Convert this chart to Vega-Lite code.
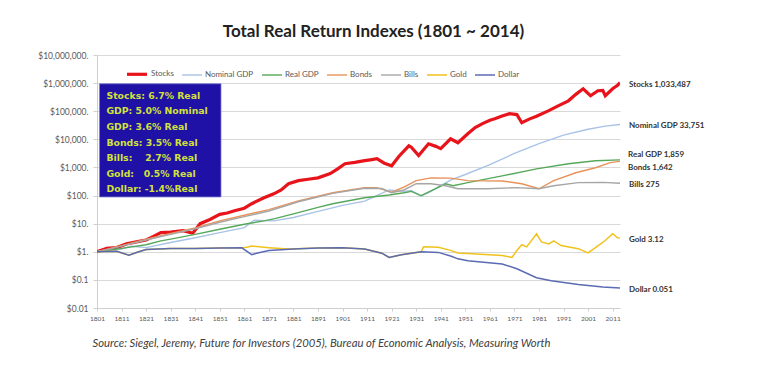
{
  "$schema": "https://vega.github.io/schema/vega-lite/v6.json",
  "width": 523,
  "height": 253,
  "autosize": {"type": "none"},
  "padding": {"left": 97, "top": 55, "right": 145, "bottom": 57},
  "background": "white",
  "config": {"font": "Lato", "view": {"stroke": null}, "axis": {"labelOverlap": false}},
  "title": {"text": "Total Real Return Indexes (1801 ~ 2014)", "fontSize": 17, "fontWeight": "bold", "color": "#222222", "font": "Lato", "dx": 15, "offset": 10},
  "encoding": {
    "x": {"field": "year", "type": "quantitative",
      "scale": {"domain": [1801, 2014], "nice": false, "zero": false},
      "axis": {"values": [1801,1811,1821,1831,1841,1851,1861,1871,1881,1891,1901,1911,1921,1931,1941,1951,1961,1971,1981,1991,2001,2011],
        "format": "d", "grid": false, "labelFontSize": 6.5, "labelColor": "#595959", "domainColor": "#cfcfcf", "tickColor": "#cfcfcf", "tickSize": 3, "labelPadding": 4,
        "labelOverlap": false, "labelBound": false, "labelFlush": false,
        "title": "Source: Siegel, Jeremy, Future for Investors (2005), Bureau of Economic Analysis, Measuring Worth",
        "titleFontStyle": "italic", "titleFontWeight": "normal", "titleFontSize": 11.3, "titleColor": "#404040",
        "titleAnchor": "start", "titleAlign": "left", "titleX": -5, "titleY": 38, "titleBaseline": "alphabetic"}},
    "y": {"field": "value", "type": "quantitative",
      "scale": {"type": "log", "domain": [0.01, 10000000], "nice": false},
      "axis": {"values": [0.01, 0.1, 1, 10, 100, 1000, 10000, 100000, 1000000, 10000000],
        "labelExpr": "datum.value >= 1 ? '$' + format(datum.value, ',') + '.' : '$' + format(datum.value, '')",
        "title": null, "grid": true, "gridColor": "#d9d9d9", "domainColor": "#cfcfcf", "tickColor": "#cfcfcf", "tickSize": 4,
        "labelFontSize": 8.5, "labelColor": "#595959", "labelPadding": 5, "labelOverlap": false}}
  },
  "data": {"name": "series"},
  "layer": [
    {
      "mark": {"type": "line", "clip": true},
      "encoding": {
        "color": {"field": "series", "type": "nominal",
          "scale": {"domain": ["Stocks", "Nominal GDP", "Real GDP", "Bonds", "Bills", "Gold", "Dollar"],
            "range": ["#e8141b", "#a9c3e6", "#55a85a", "#e8925a", "#a6a6a6", "#f0c21c", "#5b6bb3"]},
          "legend": {"title": null, "orient": "none", "legendX": 28, "legendY": 7, "direction": "horizontal", "symbolType": "stroke", "symbolSize": 400, "labelFontSize": 8, "labelColor": "#595959", "columnPadding": 5, "labelOffset": 2}},
        "strokeWidth": {"field": "series", "type": "nominal",
          "scale": {"type": "ordinal", "domain": ["Stocks", "Nominal GDP", "Real GDP", "Bonds", "Bills", "Gold", "Dollar"], "range": [3.2, 1.4, 1.4, 1.4, 1.4, 1.5, 1.5]},
          "legend": {"title": null, "orient": "none", "legendX": 28, "legendY": 7, "direction": "horizontal", "symbolType": "stroke", "symbolSize": 400, "labelFontSize": 8, "labelColor": "#595959", "columnPadding": 5, "labelOffset": 2}}
      }
    },
    {
      "transform": [{"filter": "datum.year == 2014 && datum.series == 'Stocks'"}],
      "mark": {"type": "rect", "fill": "#1f10a6", "stroke": "#7f7fd0", "strokeWidth": 0.8},
      "encoding": {
        "x": {"datum": 1802},
        "x2": {"datum": 1851.5},
        "y": {"datum": 950000},
        "y2": {"datum": 89}
      }
    },
    {
      "transform": [{"filter": "datum.year == 2014 && datum.series == 'Stocks'"}],
      "mark": {"type": "text", "align": "left", "baseline": "top", "dx": 7, "dy": 8, "font": "DejaVu Sans", "fontSize": 9.3, "fontWeight": "bold", "color": "#d2e23a", "lineHeight": 15.6,
        "text": ["Stocks: 6.7% Real", "GDP: 5.0% Nominal", "GDP: 3.6% Real", "Bonds: 3.5% Real", "Bills:\u00a0\u00a0\u00a0 2.7% Real", "Gold:\u00a0\u00a0 0.5% Real", "Dollar: -1.4%Real"]},
      "encoding": {
        "x": {"datum": 1802},
        "y": {"datum": 950000}
      }
    },
    {
      "transform": [{"filter": "datum.year == 2014 && datum.series != 'Real GDP' && datum.series != 'Bonds'"}, {"calculate": "datum.series + ' ' + format(datum.value, ',')", "as": "label"}],
      "mark": {"type": "text", "align": "left", "baseline": "middle", "dx": 9, "dy": 2, "fontSize": 8, "fontWeight": "bold", "color": "#333333", "clip": false},
      "encoding": {"text": {"field": "label"}}
    },
    {
      "transform": [{"filter": "datum.year == 2014 && datum.series == 'Real GDP'"}, {"calculate": "datum.series + ' ' + format(datum.value, ',')", "as": "label"}],
      "mark": {"type": "text", "align": "left", "baseline": "middle", "dx": 8, "dy": -5, "fontSize": 8, "fontWeight": "bold", "color": "#333333", "clip": false},
      "encoding": {"text": {"field": "label"}}
    },
    {
      "transform": [{"filter": "datum.year == 2014 && datum.series == 'Bonds'"}, {"calculate": "datum.series + ' ' + format(datum.value, ',')", "as": "label"}],
      "mark": {"type": "text", "align": "left", "baseline": "middle", "dx": 8, "dy": 7, "fontSize": 8, "fontWeight": "bold", "color": "#333333", "clip": false},
      "encoding": {"text": {"field": "label"}}
    }
  ],
  "datasets": {
    "series": [
      {"series": "Stocks", "year": 1801, "value": 1},
      {"series": "Stocks", "year": 1805, "value": 1.32},
      {"series": "Stocks", "year": 1809, "value": 1.41},
      {"series": "Stocks", "year": 1813, "value": 1.91},
      {"series": "Stocks", "year": 1817, "value": 2.24},
      {"series": "Stocks", "year": 1821, "value": 2.63},
      {"series": "Stocks", "year": 1824, "value": 3.55},
      {"series": "Stocks", "year": 1827, "value": 4.79},
      {"series": "Stocks", "year": 1831, "value": 5.01},
      {"series": "Stocks", "year": 1836, "value": 5.62},
      {"series": "Stocks", "year": 1840, "value": 4.57},
      {"series": "Stocks", "year": 1843, "value": 10},
      {"series": "Stocks", "year": 1847, "value": 14.1},
      {"series": "Stocks", "year": 1851, "value": 21.4},
      {"series": "Stocks", "year": 1854, "value": 24},
      {"series": "Stocks", "year": 1857, "value": 28.8},
      {"series": "Stocks", "year": 1861, "value": 35.5},
      {"series": "Stocks", "year": 1864, "value": 51.3},
      {"series": "Stocks", "year": 1869, "value": 83.2},
      {"series": "Stocks", "year": 1873, "value": 115},
      {"series": "Stocks", "year": 1876, "value": 158},
      {"series": "Stocks", "year": 1879, "value": 263},
      {"series": "Stocks", "year": 1883, "value": 339},
      {"series": "Stocks", "year": 1887, "value": 380},
      {"series": "Stocks", "year": 1891, "value": 427},
      {"series": "Stocks", "year": 1896, "value": 603},
      {"series": "Stocks", "year": 1899, "value": 891},
      {"series": "Stocks", "year": 1902, "value": 1349},
      {"series": "Stocks", "year": 1906, "value": 1514},
      {"series": "Stocks", "year": 1910, "value": 1738},
      {"series": "Stocks", "year": 1913, "value": 1905},
      {"series": "Stocks", "year": 1915, "value": 2042},
      {"series": "Stocks", "year": 1918, "value": 1413},
      {"series": "Stocks", "year": 1921, "value": 1148},
      {"series": "Stocks", "year": 1924, "value": 2512},
      {"series": "Stocks", "year": 1928, "value": 5888},
      {"series": "Stocks", "year": 1929, "value": 5248},
      {"series": "Stocks", "year": 1932, "value": 2630},
      {"series": "Stocks", "year": 1936, "value": 6918},
      {"series": "Stocks", "year": 1939, "value": 5623},
      {"series": "Stocks", "year": 1941, "value": 4677},
      {"series": "Stocks", "year": 1945, "value": 10471},
      {"series": "Stocks", "year": 1948, "value": 7586},
      {"series": "Stocks", "year": 1952, "value": 15849},
      {"series": "Stocks", "year": 1955, "value": 26303},
      {"series": "Stocks", "year": 1958, "value": 36308},
      {"series": "Stocks", "year": 1961, "value": 47863},
      {"series": "Stocks", "year": 1963, "value": 53703},
      {"series": "Stocks", "year": 1966, "value": 67608},
      {"series": "Stocks", "year": 1969, "value": 81283},
      {"series": "Stocks", "year": 1972, "value": 75858},
      {"series": "Stocks", "year": 1974, "value": 38905},
      {"series": "Stocks", "year": 1977, "value": 52481},
      {"series": "Stocks", "year": 1980, "value": 66069},
      {"series": "Stocks", "year": 1985, "value": 104713},
      {"series": "Stocks", "year": 1989, "value": 158489},
      {"series": "Stocks", "year": 1993, "value": 234423},
      {"series": "Stocks", "year": 1996, "value": 398107},
      {"series": "Stocks", "year": 1999, "value": 630957},
      {"series": "Stocks", "year": 2002, "value": 354813},
      {"series": "Stocks", "year": 2005, "value": 537032},
      {"series": "Stocks", "year": 2007, "value": 549541},
      {"series": "Stocks", "year": 2008, "value": 354813},
      {"series": "Stocks", "year": 2011, "value": 630957},
      {"series": "Stocks", "year": 2013, "value": 831764},
      {"series": "Stocks", "year": 2014, "value": 1033487},

      {"series": "Nominal GDP", "year": 1801, "value": 1},
      {"series": "Nominal GDP", "year": 1811, "value": 1.26},
      {"series": "Nominal GDP", "year": 1815, "value": 1.58},
      {"series": "Nominal GDP", "year": 1821, "value": 1.41},
      {"series": "Nominal GDP", "year": 1831, "value": 2.14},
      {"series": "Nominal GDP", "year": 1841, "value": 3.16},
      {"series": "Nominal GDP", "year": 1851, "value": 4.79},
      {"series": "Nominal GDP", "year": 1861, "value": 7.24},
      {"series": "Nominal GDP", "year": 1865, "value": 13.2},
      {"series": "Nominal GDP", "year": 1873, "value": 12.6},
      {"series": "Nominal GDP", "year": 1881, "value": 16.6},
      {"series": "Nominal GDP", "year": 1891, "value": 27.5},
      {"series": "Nominal GDP", "year": 1901, "value": 44.7},
      {"series": "Nominal GDP", "year": 1910, "value": 63.1},
      {"series": "Nominal GDP", "year": 1920, "value": 158},
      {"series": "Nominal GDP", "year": 1926, "value": 141},
      {"series": "Nominal GDP", "year": 1929, "value": 151},
      {"series": "Nominal GDP", "year": 1933, "value": 95.5},
      {"series": "Nominal GDP", "year": 1937, "value": 141},
      {"series": "Nominal GDP", "year": 1941, "value": 224},
      {"series": "Nominal GDP", "year": 1945, "value": 355},
      {"series": "Nominal GDP", "year": 1951, "value": 562},
      {"series": "Nominal GDP", "year": 1961, "value": 1259},
      {"series": "Nominal GDP", "year": 1971, "value": 3162},
      {"series": "Nominal GDP", "year": 1981, "value": 7079},
      {"series": "Nominal GDP", "year": 1991, "value": 14125},
      {"series": "Nominal GDP", "year": 2001, "value": 22909},
      {"series": "Nominal GDP", "year": 2008, "value": 29512},
      {"series": "Nominal GDP", "year": 2014, "value": 33751},

      {"series": "Real GDP", "year": 1801, "value": 1},
      {"series": "Real GDP", "year": 1811, "value": 1.32},
      {"series": "Real GDP", "year": 1821, "value": 1.78},
      {"series": "Real GDP", "year": 1827, "value": 2.45},
      {"series": "Real GDP", "year": 1831, "value": 2.82},
      {"series": "Real GDP", "year": 1841, "value": 4.17},
      {"series": "Real GDP", "year": 1851, "value": 6.31},
      {"series": "Real GDP", "year": 1861, "value": 9.55},
      {"series": "Real GDP", "year": 1869, "value": 12.6},
      {"series": "Real GDP", "year": 1873, "value": 14.8},
      {"series": "Real GDP", "year": 1881, "value": 22.4},
      {"series": "Real GDP", "year": 1891, "value": 38},
      {"series": "Real GDP", "year": 1897, "value": 51.3},
      {"series": "Real GDP", "year": 1910, "value": 83.2},
      {"series": "Real GDP", "year": 1920, "value": 105},
      {"series": "Real GDP", "year": 1926, "value": 126},
      {"series": "Real GDP", "year": 1929, "value": 141},
      {"series": "Real GDP", "year": 1933, "value": 100},
      {"series": "Real GDP", "year": 1937, "value": 148},
      {"series": "Real GDP", "year": 1943, "value": 263},
      {"series": "Real GDP", "year": 1946, "value": 224},
      {"series": "Real GDP", "year": 1952, "value": 288},
      {"series": "Real GDP", "year": 1966, "value": 501},
      {"series": "Real GDP", "year": 1980, "value": 891},
      {"series": "Real GDP", "year": 1993, "value": 1349},
      {"series": "Real GDP", "year": 2004, "value": 1738},
      {"series": "Real GDP", "year": 2014, "value": 1859},

      {"series": "Bonds", "year": 1801, "value": 1},
      {"series": "Bonds", "year": 1811, "value": 1.66},
      {"series": "Bonds", "year": 1821, "value": 2.82},
      {"series": "Bonds", "year": 1831, "value": 4.47},
      {"series": "Bonds", "year": 1841, "value": 7.08},
      {"series": "Bonds", "year": 1851, "value": 12.6},
      {"series": "Bonds", "year": 1861, "value": 20},
      {"series": "Bonds", "year": 1871, "value": 31.6},
      {"series": "Bonds", "year": 1883, "value": 64.6},
      {"series": "Bonds", "year": 1897, "value": 126},
      {"series": "Bonds", "year": 1910, "value": 191},
      {"series": "Bonds", "year": 1915, "value": 191},
      {"series": "Bonds", "year": 1921, "value": 132},
      {"series": "Bonds", "year": 1926, "value": 200},
      {"series": "Bonds", "year": 1931, "value": 339},
      {"series": "Bonds", "year": 1937, "value": 427},
      {"series": "Bonds", "year": 1945, "value": 417},
      {"series": "Bonds", "year": 1952, "value": 339},
      {"series": "Bonds", "year": 1966, "value": 331},
      {"series": "Bonds", "year": 1974, "value": 263},
      {"series": "Bonds", "year": 1981, "value": 174},
      {"series": "Bonds", "year": 1987, "value": 339},
      {"series": "Bonds", "year": 1996, "value": 646},
      {"series": "Bonds", "year": 2004, "value": 977},
      {"series": "Bonds", "year": 2010, "value": 1479},
      {"series": "Bonds", "year": 2014, "value": 1642},

      {"series": "Bills", "year": 1801, "value": 1},
      {"series": "Bills", "year": 1811, "value": 1.58},
      {"series": "Bills", "year": 1821, "value": 2.63},
      {"series": "Bills", "year": 1831, "value": 4.17},
      {"series": "Bills", "year": 1841, "value": 6.61},
      {"series": "Bills", "year": 1851, "value": 11.2},
      {"series": "Bills", "year": 1861, "value": 17.8},
      {"series": "Bills", "year": 1871, "value": 28.2},
      {"series": "Bills", "year": 1883, "value": 60.3},
      {"series": "Bills", "year": 1897, "value": 120},
      {"series": "Bills", "year": 1910, "value": 182},
      {"series": "Bills", "year": 1917, "value": 178},
      {"series": "Bills", "year": 1921, "value": 126},
      {"series": "Bills", "year": 1926, "value": 158},
      {"series": "Bills", "year": 1931, "value": 263},
      {"series": "Bills", "year": 1937, "value": 263},
      {"series": "Bills", "year": 1943, "value": 224},
      {"series": "Bills", "year": 1948, "value": 174},
      {"series": "Bills", "year": 1960, "value": 174},
      {"series": "Bills", "year": 1972, "value": 191},
      {"series": "Bills", "year": 1981, "value": 174},
      {"series": "Bills", "year": 1987, "value": 224},
      {"series": "Bills", "year": 1997, "value": 288},
      {"series": "Bills", "year": 2007, "value": 295},
      {"series": "Bills", "year": 2014, "value": 275},

      {"series": "Gold", "year": 1801, "value": 1},
      {"series": "Gold", "year": 1809, "value": 1.05},
      {"series": "Gold", "year": 1814, "value": 0.76},
      {"series": "Gold", "year": 1818, "value": 1},
      {"series": "Gold", "year": 1821, "value": 1.2},
      {"series": "Gold", "year": 1831, "value": 1.32},
      {"series": "Gold", "year": 1841, "value": 1.32},
      {"series": "Gold", "year": 1851, "value": 1.35},
      {"series": "Gold", "year": 1860, "value": 1.38},
      {"series": "Gold", "year": 1862, "value": 1.45},
      {"series": "Gold", "year": 1864, "value": 1.6},
      {"series": "Gold", "year": 1867, "value": 1.5},
      {"series": "Gold", "year": 1871, "value": 1.4},
      {"series": "Gold", "year": 1879, "value": 1.26},
      {"series": "Gold", "year": 1891, "value": 1.35},
      {"series": "Gold", "year": 1901, "value": 1.38},
      {"series": "Gold", "year": 1910, "value": 1.26},
      {"series": "Gold", "year": 1917, "value": 0.89},
      {"series": "Gold", "year": 1920, "value": 0.63},
      {"series": "Gold", "year": 1925, "value": 0.79},
      {"series": "Gold", "year": 1933, "value": 1},
      {"series": "Gold", "year": 1934, "value": 1.5},
      {"series": "Gold", "year": 1940, "value": 1.45},
      {"series": "Gold", "year": 1945, "value": 1.12},
      {"series": "Gold", "year": 1948, "value": 0.91},
      {"series": "Gold", "year": 1952, "value": 0.87},
      {"series": "Gold", "year": 1966, "value": 0.74},
      {"series": "Gold", "year": 1970, "value": 0.63},
      {"series": "Gold", "year": 1972, "value": 1.12},
      {"series": "Gold", "year": 1974, "value": 1.78},
      {"series": "Gold", "year": 1976, "value": 1.5},
      {"series": "Gold", "year": 1980, "value": 4.37},
      {"series": "Gold", "year": 1982, "value": 2.24},
      {"series": "Gold", "year": 1985, "value": 1.91},
      {"series": "Gold", "year": 1987, "value": 2.45},
      {"series": "Gold", "year": 1990, "value": 1.66},
      {"series": "Gold", "year": 1997, "value": 1.29},
      {"series": "Gold", "year": 2001, "value": 0.91},
      {"series": "Gold", "year": 2005, "value": 1.62},
      {"series": "Gold", "year": 2008, "value": 2.51},
      {"series": "Gold", "year": 2011, "value": 4.37},
      {"series": "Gold", "year": 2013, "value": 3.16},
      {"series": "Gold", "year": 2014, "value": 3.12},

      {"series": "Dollar", "year": 1801, "value": 1},
      {"series": "Dollar", "year": 1809, "value": 1.05},
      {"series": "Dollar", "year": 1814, "value": 0.76},
      {"series": "Dollar", "year": 1818, "value": 1},
      {"series": "Dollar", "year": 1821, "value": 1.2},
      {"series": "Dollar", "year": 1831, "value": 1.32},
      {"series": "Dollar", "year": 1841, "value": 1.32},
      {"series": "Dollar", "year": 1851, "value": 1.35},
      {"series": "Dollar", "year": 1860, "value": 1.38},
      {"series": "Dollar", "year": 1864, "value": 0.79},
      {"series": "Dollar", "year": 1866, "value": 0.89},
      {"series": "Dollar", "year": 1871, "value": 1.12},
      {"series": "Dollar", "year": 1881, "value": 1.26},
      {"series": "Dollar", "year": 1891, "value": 1.35},
      {"series": "Dollar", "year": 1901, "value": 1.38},
      {"series": "Dollar", "year": 1910, "value": 1.26},
      {"series": "Dollar", "year": 1917, "value": 0.89},
      {"series": "Dollar", "year": 1920, "value": 0.63},
      {"series": "Dollar", "year": 1925, "value": 0.79},
      {"series": "Dollar", "year": 1933, "value": 1},
      {"series": "Dollar", "year": 1940, "value": 0.95},
      {"series": "Dollar", "year": 1945, "value": 0.71},
      {"series": "Dollar", "year": 1948, "value": 0.56},
      {"series": "Dollar", "year": 1952, "value": 0.48},
      {"series": "Dollar", "year": 1966, "value": 0.37},
      {"series": "Dollar", "year": 1972, "value": 0.25},
      {"series": "Dollar", "year": 1980, "value": 0.12},
      {"series": "Dollar", "year": 1986, "value": 0.093},
      {"series": "Dollar", "year": 1997, "value": 0.068},
      {"series": "Dollar", "year": 2007, "value": 0.056},
      {"series": "Dollar", "year": 2014, "value": 0.051}
    ]
  }
}
